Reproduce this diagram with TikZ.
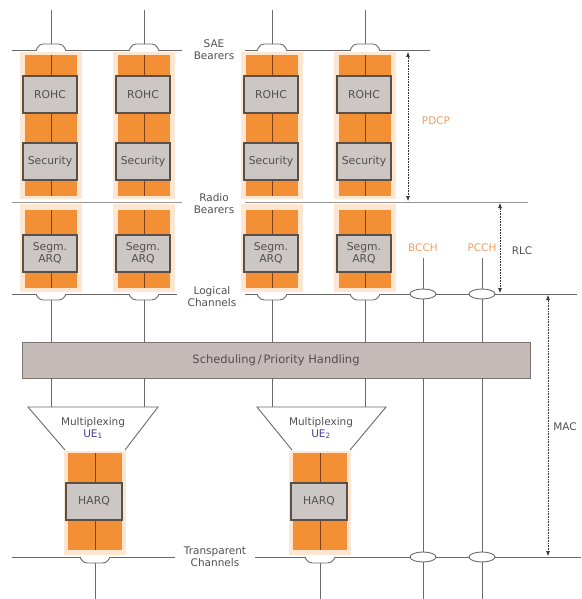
\documentclass[tikz,border=0pt]{standalone}
\usepackage{fontspec}
\setmainfont{DejaVu Sans}
\usetikzlibrary{arrows.meta,shapes.geometric}
\definecolor{orng}{RGB}{243,143,52}
\definecolor{peach}{RGB}{253,230,210}
\definecolor{gboxc}{RGB}{204,199,196}
\definecolor{gborder}{RGB}{90,80,72}
\definecolor{divc}{RGB}{130,65,25}
\definecolor{linec}{RGB}{105,105,105}
\definecolor{lightline}{RGB}{150,150,150}
\definecolor{schedc}{RGB}{198,187,184}
\definecolor{txtc}{RGB}{80,80,80}
\definecolor{olblc}{RGB}{240,160,100}
\definecolor{uec}{RGB}{70,60,160}
\begin{document}
\begin{tikzpicture}[x=1pt,y=-1pt,
  peachbg/.style={fill=peach,draw=none,inner sep=0pt,minimum width=62pt},
  stackbg/.style={fill=orng,draw=none,inner sep=0pt,minimum width=52pt},
  gbox/.style={fill=gboxc,draw=gborder,line width=1.1pt,inner sep=0pt,minimum width=54pt,
    align=center,font=\fontsize{10.8}{12}\selectfont,text=txtc},
  divl/.style={draw=divc,line width=1pt},
  chan/.style={draw=linec,line width=1pt},
  chanlight/.style={draw=lightline,line width=1pt},
  hump/.style={draw=linec,line width=0.9pt,fill=white,rounded corners=4pt},
  lbl/.style={font=\fontsize{10.5}{12}\selectfont,align=center,text=txtc,inner sep=0pt},
  olbl/.style={font=\fontsize{10.5}{12}\selectfont,text=olblc,inner sep=0pt},
  oval/.style={ellipse,draw=linec,line width=0.9pt,fill=white,minimum width=26pt,minimum height=10pt,inner sep=0pt},
  dimarrow/.style={draw=black!80,line width=0.6pt,densely dotted,{Latex[length=5pt,width=4pt]}-{Latex[length=5pt,width=4pt]}}
]
\useasboundingbox (0,0) rectangle (581,599);

% ---------- horizontal channel lines ----------
\coordinate (sae1) at (12,51);  \coordinate (sae2) at (182,51);
\coordinate (sae3) at (245,51); \coordinate (sae4) at (430,51);
\draw[chan] (sae1) -- (sae2);
\draw[chan] (sae3) -- (sae4);
\coordinate (rb1) at (12,202);  \coordinate (rb2) at (182,202);
\coordinate (rb3) at (245,202); \coordinate (rb4) at (528,202);
\draw[chanlight] (rb1) -- (rb2);
\draw[chanlight] (rb3) -- (rb4);
\coordinate (lc1) at (12,294);  \coordinate (lc2) at (177,294);
\coordinate (lc3) at (245,294); \coordinate (lc4) at (577,294);
\draw[chan] (lc1) -- (lc2);
\draw[chan] (lc3) -- (lc4);
\coordinate (tc1) at (12,557);  \coordinate (tc2) at (175,557);
\coordinate (tc3) at (255,557); \coordinate (tc4) at (581,557);
\draw[chan] (tc1) -- (tc2);
\draw[chan] (tc3) -- (tc4);

% ---------- layer labels ----------
\node[lbl] (saelbl) at (214,50) {SAE\\Bearers};
\node[lbl] (rblbl) at (214,204) {Radio\\Bearers};
\node[lbl] (lclbl) at (212,297) {Logical\\Channels};
\node[lbl] (tclbl) at (215,557) {Transparent\\Channels};

% ---------- PDCP / RLC stacks ----------
\foreach \x/\n/\s in {51/1/Segm., 144/2/Segm., 272/3/Segm., 365/4/Segm.}{
  \node[peachbg,minimum height=147pt] (pp\n) at (\x,125.5) {};
  \node[stackbg,minimum height=141pt] (ps\n) at (\x,125.5) {};
  \draw[divl] (ps\n.north) -- (ps\n.south);
  \node[gbox,minimum height=37pt] (rohc\n) at (\x-1,94.5) {ROHC};
  \node[gbox,minimum height=37pt] (sec\n) at (\x-1,161.5) {Security};
  \node[peachbg,minimum height=88pt] (rp\n) at (\x,248) {};
  \node[stackbg,minimum height=78pt] (rs\n) at (\x,249) {};
  \draw[divl] (rs\n.north) -- (rs\n.south);
  \node[gbox,minimum height=37pt] (arq\n) at (\x-1,253.5) {\s\\ARQ};
  % SAE bearer hump and line
  \coordinate (top\n) at (\x,10);
  \coordinate (th\n) at (\x,44);
  \draw[hump] (\x-15,51) -- (\x-12,44) -- (\x+12,44) -- (\x+15,51);
  \draw[chan] (top\n) -- (th\n);
  % logical channel hump
  \coordinate (lh\n) at (\x,300);
  \draw[hump] (\x-15,294) -- (\x-12,300) -- (\x+12,300) -- (\x+15,294);
}

% ---------- Scheduling ----------
\node[fill=schedc,draw=gborder!80,line width=0.8pt,minimum width=508pt,minimum height=36pt,
  inner sep=0pt,font=\fontsize{11.5}{13}\selectfont,text=txtc] (sched) at (276,360) {Scheduling\,/\,Priority Handling};
\foreach \n in {1,2,3,4}{
  \draw[chan] (lh\n) -- (lh\n |- sched.north);
}

% ---------- Multiplexing trapezoids ----------
\coordinate (m1bl) at (65,450); \coordinate (m1tl) at (28,407);
\coordinate (m1tr) at (158,407); \coordinate (m1br) at (125,450);
\draw[chan,line width=0.9pt] (m1bl) -- (m1tl) -- (m1tr) -- (m1br);
\coordinate (m2bl) at (292,450); \coordinate (m2tl) at (257,407);
\coordinate (m2tr) at (386,407); \coordinate (m2br) at (350,450);
\draw[chan,line width=0.9pt] (m2bl) -- (m2tl) -- (m2tr) -- (m2br);
\node[lbl] (mux1) at (93,428) {Multiplexing\\{\color{uec}UE\textsubscript{1}}};
\node[lbl] (mux2) at (321,428) {Multiplexing\\{\color{uec}UE\textsubscript{2}}};
\coordinate (mt1) at (51,407);  \coordinate (mt2) at (144,407);
\coordinate (mt3) at (272,407); \coordinate (mt4) at (365,407);
\foreach \n in {1,2,3,4}{
  \draw[chan] (sched.south -| mt\n) -- (mt\n);
}

% ---------- HARQ stacks ----------
\foreach \x/\n in {95/1, 320/2}{
  \node[peachbg,minimum width=62pt,minimum height=104pt] (hp\n) at (\x,503) {};
  \node[stackbg,minimum width=54pt,minimum height=97pt] (hs\n) at (\x,501.5) {};
  \draw[divl] (hs\n.north) -- (hs\n.south);
  \node[gbox,minimum width=56pt,minimum height=37pt] (harq\n) at (\x-1,501.5) {HARQ};
  \coordinate (bh\n) at (\x,563);
  \coordinate (bot\n) at (\x,599);
  \draw[hump] (\x-15,557) -- (\x-12,563) -- (\x+12,563) -- (\x+15,557);
  \draw[chan] (bh\n) -- (bot\n);
}

% ---------- BCCH / PCCH ----------
\node[olbl] (bcch) at (423,248) {BCCH};
\node[olbl] (pcch) at (482,248) {PCCH};
\node[oval] (be1) at (423,294) {};
\node[oval] (be2) at (423,557) {};
\node[oval] (pe1) at (482,294) {};
\node[oval] (pe2) at (482,557) {};
\coordinate (bbot) at (423,599);
\coordinate (pbot) at (482,599);
\draw[chan] (bcch.south) ++(0,6) -- (be1.north);
\draw[chan] (pcch.south) ++(0,6) -- (pe1.north);
\draw[chan] (be1.south) -- (be1.south |- sched.north);
\draw[chan] (pe1.south) -- (pe1.south |- sched.north);
\draw[chan] (sched.south -| be2) -- (be2.north);
\draw[chan] (sched.south -| pe2) -- (pe2.north);
\draw[chan] (be2.south) -- (bbot);
\draw[chan] (pe2.south) -- (pbot);

% ---------- dimension arrows ----------
\coordinate (pdT) at (408,52);  \coordinate (pdB) at (408,201);
\coordinate (rlT) at (500,203); \coordinate (rlB) at (500,293);
\coordinate (maT) at (548,295); \coordinate (maB) at (548,556);
\draw[dimarrow] (pdT) -- (pdB);
\draw[dimarrow] (rlT) -- (rlB);
\draw[dimarrow] (maT) -- (maB);
\node[olbl] (pdcp) at (436,121) {PDCP};
\node[lbl] (rlc) at (522,251) {RLC};
\node[lbl] (mac) at (565,427) {MAC};
\end{tikzpicture}
\end{document}
